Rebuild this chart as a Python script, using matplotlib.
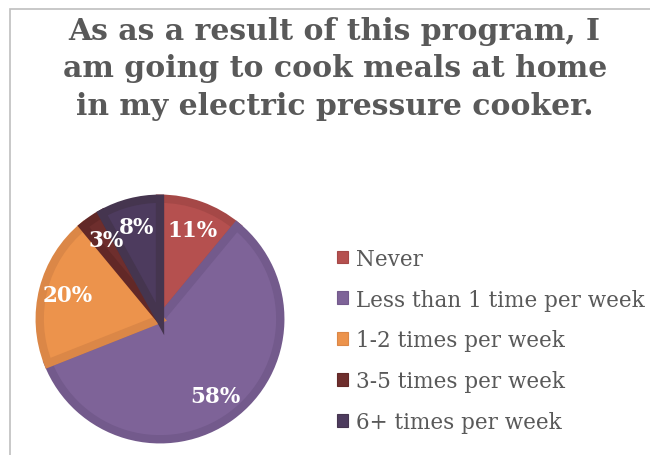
import matplotlib.pyplot as plt
from matplotlib.patches import Rectangle

# Survey answers
labels = ['Never', 'Less than 1 time per week', '1-2 times per week',
          '3-5 times per week', '6+ times per week']
shares = [11, 58, 20, 3, 8]
fill_colors = ['#B5504F', '#7E6398', '#EC934C', '#6E2E2D', '#4D3B5E']
edge_colors = ['#A54847', '#735A8C', '#DB8747', '#622827', '#45354F']

title = 'As as a result of this program, I\nam going to cook meals at home\nin my electric pressure cooker.'

plt.rcParams['font.family'] = ['DejaVu Serif']

fig = plt.figure(figsize=(6.5, 4.56), dpi=100)
fig.patch.set_facecolor('white')

# chart area border (cut off on right and bottom like the source)
fig.add_artist(Rectangle((10 / 650, -0.1), 1.2, (456 - 10) / 456 + 0.1,
                         transform=fig.transFigure, fill=False,
                         edgecolor='#BFBFBF', linewidth=1.2))

fig.text(0.515, 1 - 17 / 456, title, ha='center', va='top', fontsize=21.5,
         fontweight='bold', color='#595959', linespacing=1.36)

# pie axes: centre ~ (160, 320) px, radius ~ 123 px
ax = fig.add_axes([(160 - 124) / 650, (456 - 320 - 124) / 456, 248 / 650, 248 / 456])
wedges, texts, autotexts = ax.pie(
    shares, colors=fill_colors, startangle=90, counterclock=False,
    radius=0.97, autopct='%d%%', pctdistance=0.79,
    wedgeprops=dict(linewidth=6, joinstyle='miter'),
    textprops=dict(color='white', fontsize=15.5, fontweight='bold'))
for w, ec in zip(wedges, edge_colors):
    w.set_edgecolor(ec)
ax.set_xlim(-1, 1)
ax.set_ylim(-1, 1)
ax.set_aspect('equal')

handles = [Rectangle((0, 0), 1, 1, facecolor=fc, edgecolor=ec, linewidth=0.8)
           for fc, ec in zip(fill_colors, edge_colors)]
fig.legend(handles, labels, loc='upper left', bbox_to_anchor=(328 / 650, 1 - 240 / 456),
           frameon=False, fontsize=15.5, handlelength=0.55, handleheight=0.55,
           handletextpad=0.35, labelspacing=0.88, labelcolor='#595959',
           borderaxespad=0)

fig.savefig('out.png', dpi=100)
